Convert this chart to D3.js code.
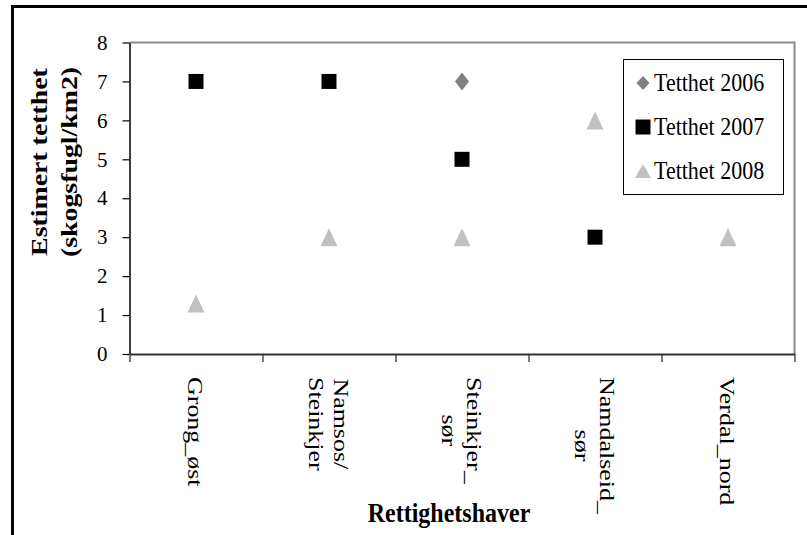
<!DOCTYPE html>
<html><head><meta charset="utf-8">
<script src="https://cdn.jsdelivr.net/npm/d3@7"></script>
<style>
html,body{margin:0;padding:0;background:#fff;}
svg{display:block;}
svg text{font-family:"Liberation Serif","Times New Roman",serif;}
</style></head>
<body><svg id="c" width="807" height="535"></svg>
<script>
const categories = [["Grong_øst"], ["Namsos/", "Steinkjer"], ["Steinkjer_", "sør"], ["Namdalseid_", "sør"], ["Verdal_nord"]];
const tetthet2006 = [null, null, 7, null, null];
const tetthet2007 = [7, 7, 5, 3, null];
const tetthet2008 = [1.3, 3, 3, 6, 3];
const yTicks = [0, 1, 2, 3, 4, 5, 6, 7, 8];
const seriesNames = ["Tetthet 2006", "Tetthet 2007", "Tetthet 2008"];
const yTitle = ["Estimert tetthet", "(skogsfugl/km2)"];
const xTitle = "Rettighetshaver";

const svg = d3.select("#c");
const L = 129.5, R = 794.5, T = 42.5, B = 354;
const stretch = 1.15;
const SERIF = '"Liberation Serif","Times New Roman",serif';

// outer frame
svg.append("path").attr("d", `M12.5,535 V6.5 H807`).attr("fill","none").attr("stroke","#000").attr("stroke-width",3);

const ids = categories.map((d,i)=>i);
const x = d3.scaleBand().domain(ids).range([L, R]);
const xb = d3.scaleLinear().domain([0, categories.length]).range([L, R]);
const y = d3.scaleLinear().domain([0, 8]).range([B, T]);

// plot border top/right
svg.append("path").attr("d", `M${L},${T} H${R} V${B}`).attr("fill","none").attr("stroke","#8a8a8a").attr("stroke-width",2);

// y axis
const gy = svg.append("g").attr("transform",`translate(${L},0)`)
  .call(d3.axisLeft(y).tickValues(yTicks).tickSize(7).tickSizeOuter(0).tickPadding(15).tickFormat(d3.format("d")));
gy.attr("font-family", null);
gy.select(".domain").attr("stroke","#000").attr("stroke-width",1.5);
gy.selectAll(".tick line").attr("stroke","#000").attr("stroke-width",1.2);
gy.selectAll(".tick text").style("font-family", SERIF).attr("font-size",21).attr("fill","#000");

// x axis (boundary ticks)
const gx = svg.append("g").attr("transform",`translate(0,${B})`)
  .call(d3.axisBottom(xb).tickValues(d3.range(categories.length+1)).tickSize(8).tickSizeOuter(0).tickFormat(""));
gx.select(".domain").attr("stroke","#333").attr("stroke-width",2);
gx.selectAll(".tick line").attr("stroke","#333").attr("stroke-width",1.3);

// x category labels (rotated 90)
const fsX = 22, lineH = 26, capOff = 7.5;
categories.forEach((lines, i) => {
  const cx = x(i) + x.bandwidth()/2;
  const g = svg.append("g").attr("transform", `translate(${cx},377) rotate(90) scale(${stretch+0.03},1)`);
  const texts = lines.map((t, j) => g.append("text").style("font-family", SERIF).attr("font-size", fsX).attr("fill","#000")
      .attr("text-anchor","middle").attr("y", capOff - lineH*(lines.length-1)/2 + lineH*j).text(t));
  const maxLen = d3.max(texts, t => t.node().getComputedTextLength());
  texts.forEach(t => t.attr("x", maxLen/2));
});

// axis titles
const gyt = svg.append("g").attr("transform", `translate(47,162) rotate(-90) scale(${stretch+0.01},1)`);
yTitle.forEach((t,j) => gyt.append("text").style("font-family", SERIF).attr("font-size",24).attr("font-weight","bold")
  .attr("text-anchor","middle").attr("y", j*30).text(t));
svg.append("g").attr("transform", `translate(449,522) scale(1,${stretch})`)
  .append("text").style("font-family", SERIF).attr("font-size",24).attr("font-weight","bold").attr("text-anchor","middle").text(xTitle);

// custom symbol types
const diamond = (w,h) => ({draw(ctx){ ctx.moveTo(0,-h/2); ctx.lineTo(w/2,0); ctx.lineTo(0,h/2); ctx.lineTo(-w/2,0); ctx.closePath(); }});
const square = (w,h) => ({draw(ctx){ ctx.rect(-w/2,-h/2,w,h); }});
const triangle = (w,h) => ({draw(ctx){ ctx.moveTo(0,-h/2); ctx.lineTo(w/2,h/2); ctx.lineTo(-w/2,h/2); ctx.closePath(); }});

const series = [
  {name: seriesNames[0], values: tetthet2006, color:"#808080", type: diamond(14,18), ltype: diamond(13,14)},
  {name: seriesNames[1], values: tetthet2007, color:"#000000", type: square(15,15), ltype: square(15,15)},
  {name: seriesNames[2], values: tetthet2008, color:"#c0c0c0", type: triangle(17,18), ltype: triangle(16,14)}
];

series.forEach(s => {
  svg.append("g").selectAll("path").data(s.values.map((v,i)=>({v,i})).filter(d=>d.v!=null))
    .join("path")
    .attr("transform", d => `translate(${x(d.i)+x.bandwidth()/2},${y(d.v)})`)
    .attr("d", d3.symbol().type(s.type)())
    .attr("fill", s.color);
});

// legend
svg.append("rect").attr("x",623.5).attr("y",59.5).attr("width",160).attr("height",135)
  .attr("fill","#fff").attr("stroke","#000").attr("stroke-width",1);
series.forEach((s,j) => {
  const cy = 83 + j*44;
  svg.append("path").attr("transform",`translate(643,${cy})`).attr("d", d3.symbol().type(s.ltype)()).attr("fill", s.color);
  svg.append("g").attr("transform",`translate(654,${cy+8}) scale(1,1.1)`)
    .append("text").style("font-family", SERIF).attr("font-size",22).attr("fill","#000").text(s.name);
});
</script></body></html>
